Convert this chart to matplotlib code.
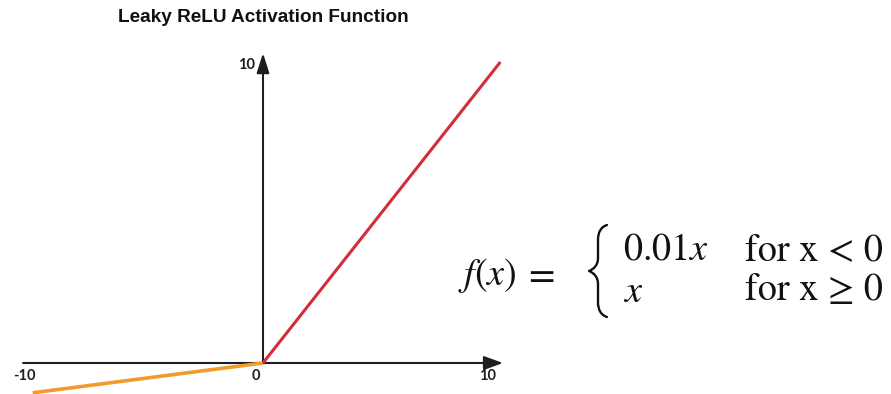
import matplotlib
matplotlib.use("Agg")
import matplotlib.pyplot as plt
from matplotlib.path import Path
from matplotlib.patches import PathPatch
from matplotlib.transforms import Affine2D

# ---- data (as drawn in the picture) ----
neg_x = [-9.8, 0.0]
neg_y = [-1.0, 0.0]
pos_x = [0.0, 10.1]
pos_y = [0.0, 10.1]
x_tick_vals = [-10, 0, 10]
x_tick_labels = ["-10", "0", "10"]
y_tick_vals = [10]
y_tick_labels = ["10"]
title = "Leaky ReLU Activation Function"

W, H = 891, 394
fig = plt.figure(figsize=(W / 100, H / 100), dpi=100)
fig.patch.set_facecolor("white")

# pixel mapping: px = 263 + 23.5*x ; py = 363 - 29.8*y
X0, SX = 263.0, 23.5
Y0, SY = 363.0, 29.8
ax = fig.add_axes([0, 0, 1, 1])
ax.set_xlim((0 - X0) / SX, (W - X0) / SX)
ax.set_ylim((Y0 - H) / SY, Y0 / SY)
ax.axis("off")

axis_col = "#1e1e1e"
# x axis with arrow
ax.annotate("", xy=(10.21, 0), xytext=(-10.21, 0),
            arrowprops=dict(arrowstyle="-|>,head_length=1.15,head_width=0.42",
                            lw=1.5, color=axis_col, shrinkA=0, shrinkB=0))
# y axis with arrow
ax.annotate("", xy=(0, 10.4), xytext=(0, 0),
            arrowprops=dict(arrowstyle="-|>,head_length=1.2,head_width=0.38",
                            lw=1.5, color=axis_col, shrinkA=0, shrinkB=0))

ax.plot(neg_x, neg_y, color="#f39a2b", lw=2.6, solid_capstyle="butt", zorder=3)
ax.plot(pos_x, pos_y, color="#d12e3a", lw=2.2, solid_capstyle="butt", zorder=3)

# tick labels
lab_font = dict(family=["Lato", "DejaVu Sans"], fontweight="bold", fontsize=10.5, color="#1e1e1e")
x_label_pos = [-10.17, -0.3, 9.57]
for v, lab, xp in zip(x_tick_vals, x_tick_labels, x_label_pos):
    ax.text(xp, (Y0 - 376) / SY, lab, ha="center", va="center", **lab_font)
for v, lab in zip(y_tick_vals, y_tick_labels):
    ax.text((247 - X0) / SX, (Y0 - 65) / SY, lab, ha="center", va="center", **lab_font)

# title
fig.text(263 / W, 1 - 18 / H, title, ha="center", va="center",
         family=["Liberation Sans", "DejaVu Sans"], fontweight="bold", fontsize=13.7, color="#111111")

# formula
plt.rcParams["mathtext.fontset"] = "stix"
def fx(px):
    return px / W
def fy(py):
    return 1 - py / H

fs = 27.5
fcol = "#111111"
fig.text(fx(458), fy(285), r"$f(x)$", ha="left", va="baseline", fontsize=fs, color=fcol)
fig.text(fx(523), fy(285), r"$=$", ha="left", va="baseline", fontsize=fs, color=fcol)
fig.text(fx(623), fy(260), r"$0.01x$", ha="left", va="baseline", fontsize=fs, color=fcol)
fig.text(fx(623), fy(302), r"$x$", ha="left", va="baseline", fontsize=fs, color=fcol)
fig.text(fx(745), fy(260), "for x < 0", ha="left", va="baseline", fontsize=fs,
         family=["STIXGeneral", "Liberation Serif"], color=fcol)
fig.text(fx(745), fy(300), "for x \u2265 0", ha="left", va="baseline", fontsize=fs,
         family=["STIXGeneral", "Liberation Serif"], color=fcol)

# brace (decoration) in pixel coordinates
verts = [(607, 225), (601, 227), (598, 232), (598, 240),
         (598, 258),
         (598, 265), (594, 269), (589, 271),
         (594, 273), (598, 277), (598, 284),
         (598, 302),
         (598, 310), (601, 315), (607, 317)]
codes = [Path.MOVETO, Path.CURVE4, Path.CURVE4, Path.CURVE4,
         Path.LINETO,
         Path.CURVE4, Path.CURVE4, Path.CURVE4,
         Path.CURVE4, Path.CURVE4, Path.CURVE4,
         Path.LINETO,
         Path.CURVE4, Path.CURVE4, Path.CURVE4]
pix = Affine2D().scale(1 / W, -1 / H).translate(0, 1) + fig.transFigure
brace = PathPatch(Path(verts, codes), transform=pix, fill=False, lw=1.7,
                  edgecolor=fcol, capstyle="round", joinstyle="round")
fig.add_artist(brace)

fig.savefig("out.png", dpi=100, facecolor="white")
